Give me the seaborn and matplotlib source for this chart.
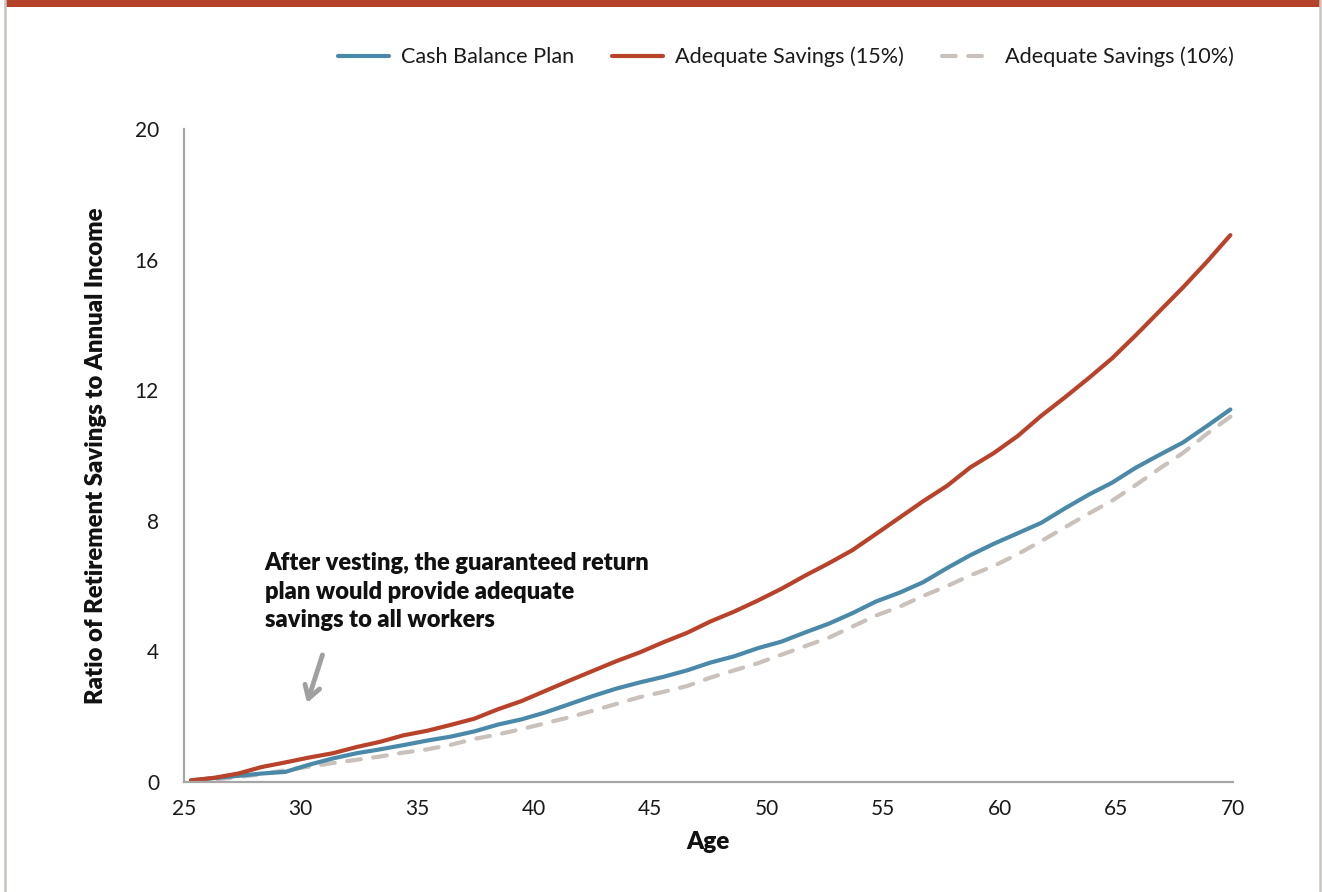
import matplotlib
matplotlib.use("Agg")
import matplotlib.pyplot as plt
from matplotlib.lines import Line2D
from matplotlib.patches import Rectangle
import seaborn as sns
import pandas as pd

ages = [25.30, 26.31, 27.33, 28.34, 29.35, 30.37, 31.38, 32.40, 33.41, 34.42,
        35.44, 36.45, 37.46, 38.48, 39.49, 40.50, 41.52, 42.53, 43.55, 44.56,
        45.57, 46.59, 47.60, 48.61, 49.63, 50.64, 51.65, 52.67, 53.68, 54.70,
        55.71, 56.72, 57.74, 58.75, 59.76, 60.78, 61.79, 62.80, 63.82, 64.83,
        65.85, 66.86, 67.87, 68.89, 69.90]

cash_balance = [0.05, 0.12, 0.19, 0.26, 0.31, 0.53, 0.72, 0.88, 1.00, 1.13,
                1.27, 1.39, 1.55, 1.76, 1.92, 2.13, 2.38, 2.63, 2.86, 3.05,
                3.22, 3.42, 3.66, 3.85, 4.10, 4.30, 4.58, 4.85, 5.17, 5.53,
                5.80, 6.12, 6.55, 6.95, 7.30, 7.62, 7.94, 8.38, 8.80, 9.17,
                9.63, 10.02, 10.40, 10.90, 11.41]

adequate_15 = [0.05, 0.13, 0.26, 0.46, 0.60, 0.75, 0.88, 1.07, 1.23, 1.43,
               1.57, 1.75, 1.94, 2.23, 2.48, 2.79, 3.10, 3.40, 3.70, 3.97,
               4.28, 4.57, 4.92, 5.22, 5.56, 5.92, 6.32, 6.70, 7.10, 7.60,
               8.10, 8.60, 9.07, 9.64, 10.08, 10.60, 11.22, 11.78, 12.37, 12.98,
               13.69, 14.42, 15.15, 15.93, 16.75]

adequate_10 = [0.03, 0.08, 0.15, 0.24, 0.36, 0.47, 0.58, 0.68, 0.78, 0.90,
               1.00, 1.14, 1.32, 1.46, 1.62, 1.80, 1.98, 2.18, 2.39, 2.60,
               2.76, 2.94, 3.20, 3.42, 3.64, 3.90, 4.16, 4.42, 4.76, 5.10,
               5.37, 5.70, 6.00, 6.33, 6.62, 6.98, 7.38, 7.80, 8.22, 8.62,
               9.10, 9.60, 10.08, 10.66, 11.19]

series_names = ["Cash Balance Plan", "Adequate Savings (15%)", "Adequate Savings (10%)"]
x_ticks = [25, 30, 35, 40, 45, 50, 55, 60, 65, 70]
y_ticks = [0, 4, 8, 12, 16, 20]
annotation = "After vesting, the guaranteed return\nplan would provide adequate\nsavings to all workers"

df = pd.concat([
    pd.DataFrame({"Age": ages, "Ratio": cash_balance, "Series": series_names[0]}),
    pd.DataFrame({"Age": ages, "Ratio": adequate_15, "Series": series_names[1]}),
    pd.DataFrame({"Age": ages, "Ratio": adequate_10, "Series": series_names[2]}),
], ignore_index=True)

sns.set_style("white")
plt.rcParams["font.family"] = ["Lato", "DejaVu Sans"]
plt.rcParams["lines.dash_capstyle"] = "round"
plt.rcParams["lines.solid_capstyle"] = "round"

fig = plt.figure(figsize=(13.22, 8.92), dpi=100)
ax = fig.add_axes([184 / 1322, 1 - 782 / 892, (1232.7 - 184) / 1322, (782 - 129) / 892])

palette = {series_names[0]: "#4a89a8", series_names[1]: "#b8432a", series_names[2]: "#c9c1bb"}
dashes = {series_names[0]: "", series_names[1]: "", series_names[2]: (3.3, 3.0)}

sns.lineplot(data=df, x="Age", y="Ratio", hue="Series", style="Series",
             palette=palette, dashes=dashes, linewidth=3, ax=ax,
             hue_order=[series_names[0], series_names[1], series_names[2]],
             style_order=[series_names[2], series_names[0], series_names[1]])

for line in ax.get_lines():
    if line.get_color() == "#c9c1bb":
        line.set_zorder(1.5)

ax.set_xlim(25, 70)
ax.set_ylim(0, 20)
ax.set_xticks(x_ticks)
ax.set_yticks(y_ticks)

gray = "#a6a6a6"
for s in ["top", "right"]:
    ax.spines[s].set_visible(False)
for s in ["left", "bottom"]:
    ax.spines[s].set_color(gray)
    ax.spines[s].set_linewidth(1.6)
ax.tick_params(axis="y", length=11, width=1.5, color=gray, pad=7, labelsize=15, labelcolor="#1a1a1a")
ax.tick_params(axis="x", length=6.5, width=1.5, color=gray, pad=6, labelsize=15, labelcolor="#1a1a1a")

ax.set_xlabel("Age", fontsize=17.5, fontweight="heavy", color="#111111")
ax.set_ylabel("Ratio of Retirement Savings to Annual Income", fontsize=17.2, fontweight="heavy", color="#111111")
ax.xaxis.set_label_coords(0.5, -0.075)
ax.yaxis.set_label_coords(-0.073, 0.5)

handles, labels = ax.get_legend_handles_labels()
order = [labels.index(n) for n in series_names]
leg = ax.legend([handles[i] for i in order], [labels[i] for i in order],
                ncol=3, frameon=False, fontsize=15.6,
                loc="center", bbox_to_anchor=(786 / 1322, 1 - 57 / 892),
                bbox_transform=fig.transFigure,
                handlelength=2.35, handletextpad=0.55, columnspacing=1.75)
for t in leg.get_texts():
    t.set_color("#1a1a1a")

ax.text(28.46, 7.05, annotation, fontsize=17, fontweight="heavy", color="#111111",
        ha="left", va="top", linespacing=1.38)
ax.annotate("", xy=(30.28, 2.42), xytext=(30.94, 3.89),
            arrowprops=dict(arrowstyle="->,head_length=0.9,head_width=0.55",
                            color="#a0a0a0", lw=3.5, shrinkA=0, shrinkB=0))

fig.add_artist(Rectangle((6 / 1322, 1 - 7 / 892), 1314 / 1322, 7 / 892,
                         transform=fig.transFigure, color="#b5432a", lw=0))
fig.add_artist(Line2D([5 / 1322, 5 / 1322], [0, 1], transform=fig.transFigure, color="#c8c4c0", lw=1.8))
fig.add_artist(Line2D([1320 / 1322, 1320 / 1322], [0, 1], transform=fig.transFigure, color="#c8c4c0", lw=1.8))

fig.savefig("out.png", dpi=100)
